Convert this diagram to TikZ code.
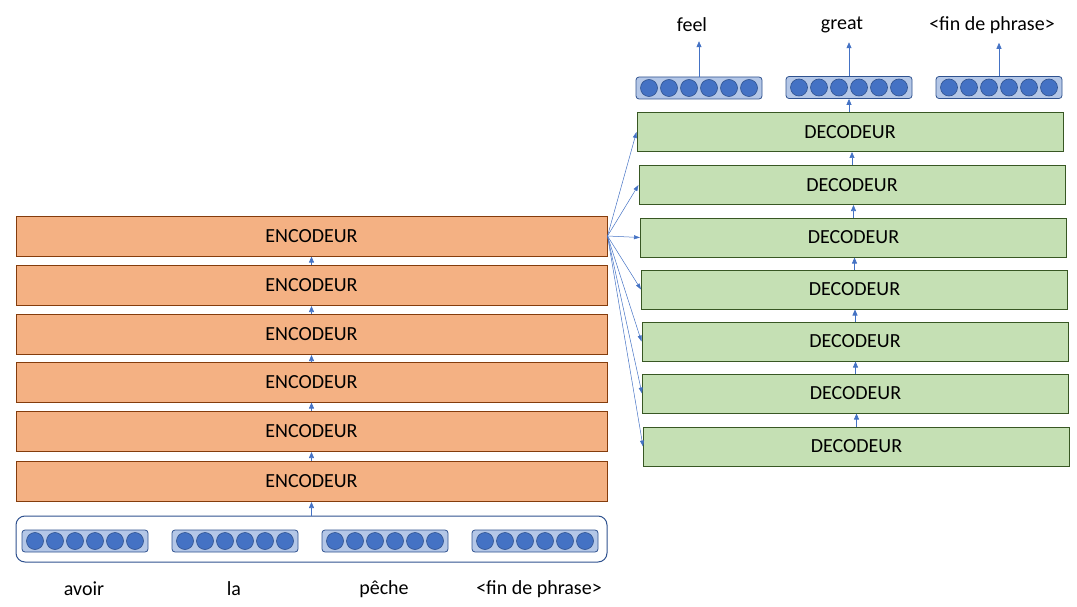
\documentclass[tikz,border=0pt]{standalone}
\usepackage{fontspec}
\setmainfont{Carlito}
\usetikzlibrary{arrows.meta}
\definecolor{encfill}{HTML}{F4B183}
\definecolor{encline}{HTML}{843C0C}
\definecolor{decfill}{HTML}{C5E0B4}
\definecolor{decline}{HTML}{385723}
\definecolor{vecfill}{HTML}{B4C7E7}
\definecolor{vecline}{HTML}{2F528F}
\definecolor{unitfill}{HTML}{4472C4}

\tikzset{
  encbox/.style={draw=encline, fill=encfill, line width=1pt, minimum width=591pt,
    minimum height=40pt, inner sep=0pt, font=\fontsize{20}{22}\selectfont},
  decbox/.style={draw=decline, fill=decfill, line width=1pt, minimum width=426pt,
    minimum height=39pt, inner sep=0pt, font=\fontsize{20}{22}\selectfont},
  vecbox/.style={draw=vecline, fill=vecfill, line width=0.8pt, rounded corners=3pt,
    minimum width=126pt, minimum height=22pt, inner sep=0pt},
  unit/.style={circle, draw=vecline, fill=unitfill, line width=0.6pt,
    minimum size=17pt, inner sep=0pt},
  word/.style={font=\fontsize{20}{22}\selectfont, inner sep=2pt},
  flow/.style={draw=unitfill, line width=0.7pt, -{Triangle[width=5pt,length=6pt]}},
  att/.style={draw=unitfill, line width=0.5pt, -{Triangle[width=4pt,length=6pt]}}
}

% one embedding vector: name, centre x, centre y
\newcommand{\embvec}[3]{%
  \node[vecbox] (#1) at (#2,#3) {};
  \foreach \k in {0,...,5}
    \node[unit] at (#2-50+20*\k,#3) {};
}

\begin{document}
\begin{tikzpicture}[x=1pt, y=-1pt]
  \useasboundingbox (0,0) rectangle (1077,607);

  % encoder stack
  \foreach \i/\y in {1/236, 2/285.5, 3/334.5, 4/382, 5/431.5, 6/481.5}
    \node[encbox] (enc\i) at (311.5,\y) {ENCODEUR};
  \foreach \i/\j in {1/2, 2/3, 3/4, 4/5, 5/6}
    \draw[flow] (enc\j.north) -- (enc\i.south);

  % input embeddings
  \node[draw=vecline, line width=1pt, rounded corners=9pt, minimum width=591pt,
    minimum height=46pt] (inbox) at (311.5,539) {};
  \embvec{in1}{85}{541}
  \embvec{in2}{235}{541}
  \embvec{in3}{385}{541}
  \embvec{in4}{535}{541}
  \draw[flow] (inbox.north) -- (enc6.south);
  \node[word] (w1) at (84,589) {avoir};
  \node[word] (w2) at (234,589) {la};
  \node[word] (w3) at (384,589) {pêche};
  \node[word] (w4) at (539,589) {<fin de phrase>};

  % decoder stack
  \foreach \i/\x/\y in {1/850/132, 2/852/185, 3/853.5/237.5, 4/854.5/289.5,
      5/855/341.5, 6/855.5/393.5, 7/856.5/446.5}
    \node[decbox] (dec\i) at (\x,\y) {DECODEUR};
  \foreach \i/\j in {1/2, 2/3, 3/4, 4/5, 5/6, 6/7}
    \draw[flow] (dec\j.north) -- (dec\j.north |- dec\i.south);

  % encoder output to every decoder
  \foreach \i in {1,...,7}
    \draw[att] (enc1.east) -- (dec\i.west);

  % output embeddings
  \embvec{out1}{699}{88}
  \embvec{out2}{849}{87.5}
  \embvec{out3}{999}{87.5}
  \draw[flow] (dec1.north -| out2.south) -- (out2.south);
  \node[word] (o1) at (692,25) {feel};
  \node[word] (o2) at (842,25) {great};
  \node[word] (o3) at (992,25) {<fin de phrase>};
  \foreach \i in {1,2,3}
    \draw[flow, shorten >=7pt] (out\i.north) -- (out\i.north |- o\i.south);
\end{tikzpicture}
\end{document}
